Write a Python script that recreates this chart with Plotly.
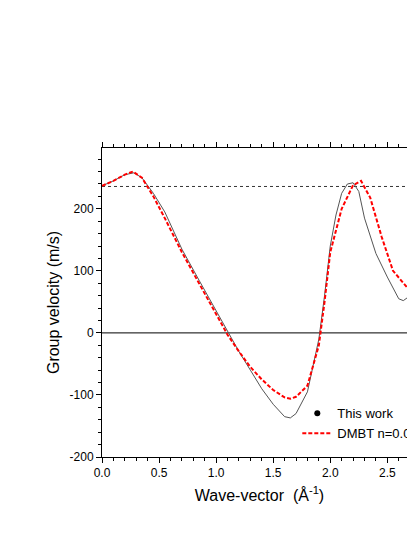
import plotly.graph_objects as go

kx_b = [0, 0.1, 0.2, 0.28, 0.35, 0.45, 0.55, 0.7, 0.85, 1.0, 1.1, 1.2, 1.3, 1.4, 1.5, 1.6, 1.65, 1.7, 1.8, 1.85, 1.9, 1.95, 2.0, 2.05, 2.1, 2.15, 2.2, 2.25, 2.3, 2.4, 2.5, 2.6, 2.64, 2.7, 2.76]
v_b = [237, 245, 255, 258, 250, 225, 195, 135, 85, 35, 2, -30, -60, -90, -115, -135, -137, -130, -95, -50, -10, 60, 140, 190, 225, 240, 242, 228, 185, 128, 90, 55, 52, 60, 68]
kx_r = [0, 0.1, 0.2, 0.27, 0.35, 0.45, 0.55, 0.7, 0.85, 1.0, 1.1, 1.2, 1.3, 1.4, 1.5, 1.6, 1.65, 1.7, 1.8, 1.9, 1.95, 2.0, 2.1, 2.2, 2.27, 2.35, 2.45, 2.55, 2.67]
v_r = [237, 245, 255, 260, 250, 220, 185, 130, 80, 30, -3, -30, -55, -75, -92, -104, -106, -103, -85, -20, 50, 130, 200, 238, 245, 218, 155, 100, 74]
ref_v = 236
y_ticks = [-200, -100, 0, 100, 200]
y_labels = ["-200", "-100", "0", "100", "200"]

fig = go.Figure()
fig.add_trace(go.Scatter(x=[0, 3], y=[ref_v, ref_v], mode="lines", line=dict(color="black", width=0.8, dash="dot"), showlegend=False))
fig.add_trace(go.Scatter(x=[0, 3], y=[0, 0], mode="lines", line=dict(color="black", width=1), showlegend=False))
fig.add_trace(go.Scatter(x=kx_b, y=v_b, mode="lines", line=dict(color="#555555", width=1), showlegend=False))
fig.add_trace(go.Scatter(x=[None], y=[None], mode="markers", marker=dict(color="black", size=6), name="This work"))
fig.add_trace(go.Scatter(x=kx_r, y=v_r, mode="lines", line=dict(color="red", width=2, dash="4px,2px"), name="DMBT n=0.0"))

ax = dict(showline=True, linecolor="black", linewidth=1, mirror="ticks", ticks="outside", ticklen=5,
          tickcolor="black", showgrid=False, zeroline=False,
          minor=dict(ticks="outside", ticklen=3, tickcolor="black"),
          tickfont=dict(size=12, color="black"))
fig.update_xaxes(**ax, range=[0, 2.76], dtick=0.5, tickformat=".1f",
                 title=dict(text="Wave-vector  (Å<sup>-1</sup>)", font=dict(size=16, color="black"), standoff=10))
fig.update_yaxes(**ax, range=[-200, 298], tickvals=y_ticks, ticktext=y_labels,
                 title=dict(text="Group velocity (m/s)", font=dict(size=16, color="black"), standoff=5))
fig.update_layout(width=415, height=537, plot_bgcolor="white", paper_bgcolor="white",
                  font=dict(family="Liberation Sans, Arial"),
                  margin=dict(l=94, r=0, t=140, b=88),
                  legend=dict(x=0.62, y=0.19, xanchor="left", yanchor="top", bgcolor="rgba(0,0,0,0)",
                              font=dict(size=13, color="black"), tracegroupgap=0))
fig.write_html("out.html")
